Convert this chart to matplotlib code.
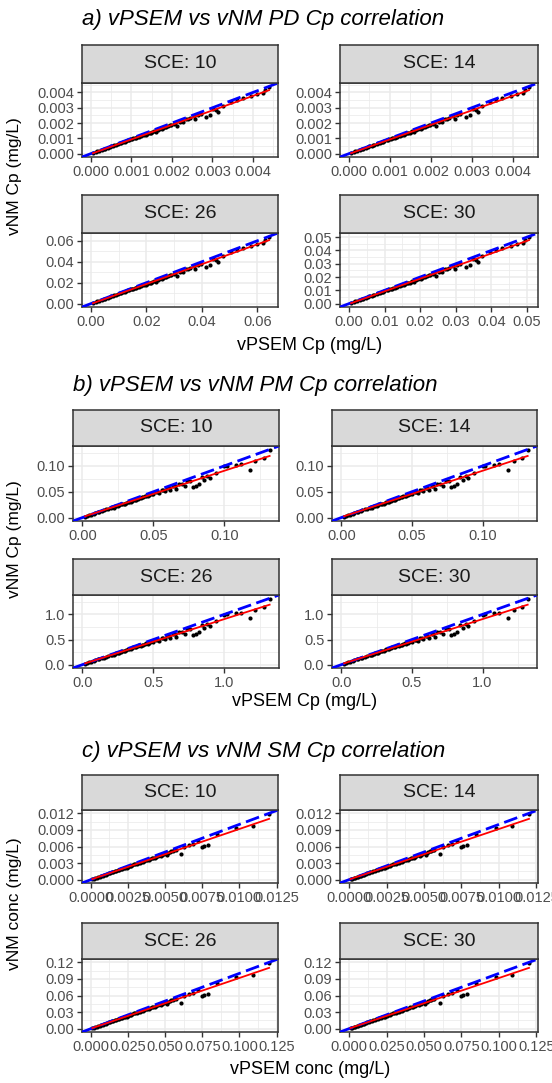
import numpy as np
import matplotlib
matplotlib.use("Agg")
import matplotlib.pyplot as plt
from matplotlib.ticker import FixedLocator, AutoMinorLocator, FormatStrFormatter

plt.rcParams['font.family'] = ['Liberation Sans', 'DejaVu Sans']

pd_x = [0.00005, 0.00012, 0.00020, 0.00028, 0.00035, 0.00042, 0.00050, 0.00055, 0.00062, 0.00068,
        0.00075, 0.00080, 0.00086, 0.00092, 0.00098, 0.00102, 0.00108, 0.00112, 0.00118, 0.00124,
        0.00130, 0.00135, 0.00142, 0.00148, 0.00155, 0.00160, 0.00168, 0.00175, 0.00182, 0.00190,
        0.00198, 0.00205, 0.00212, 0.00220, 0.00228, 0.00235, 0.00245, 0.00255, 0.00258, 0.00265,
        0.00272, 0.00285, 0.00295, 0.00302, 0.00310, 0.00315, 0.00325, 0.00345, 0.00360, 0.00375,
        0.00395, 0.00410, 0.00425, 0.00430, 0.00440,
        0.00015, 0.00032, 0.00046, 0.00058, 0.00072, 0.00083, 0.00095, 0.00105, 0.00115, 0.00127,
        0.00138, 0.00145, 0.00152, 0.00165, 0.00178, 0.00185, 0.00195, 0.00208, 0.00225, 0.00240]
pd_y = [0.00005, 0.00011, 0.00019, 0.00026, 0.00033, 0.00040, 0.00047, 0.00051, 0.00058, 0.00065,
        0.00070, 0.00074, 0.00082, 0.00086, 0.00093, 0.00094, 0.00103, 0.00102, 0.00112, 0.00114,
        0.00124, 0.00123, 0.00135, 0.00134, 0.00147, 0.00142, 0.00160, 0.00158, 0.00174, 0.00178,
        0.00190, 0.00192, 0.00180, 0.00210, 0.00205, 0.00225, 0.00230, 0.00245, 0.00228, 0.00255,
        0.00260, 0.00240, 0.00255, 0.00295, 0.00285, 0.00270, 0.00310, 0.00335, 0.00350, 0.00365,
        0.00375, 0.00390, 0.00395, 0.00415, 0.00435,
        0.00014, 0.00030, 0.00043, 0.00054, 0.00068, 0.00078, 0.00090, 0.00099, 0.00108, 0.00120,
        0.00130, 0.00137, 0.00140, 0.00155, 0.00165, 0.00172, 0.00185, 0.00198, 0.00212, 0.00228]

pm_x = [0.002, 0.005, 0.008, 0.011, 0.014, 0.017, 0.020, 0.022, 0.024, 0.026,
        0.028, 0.030, 0.032, 0.034, 0.036, 0.038, 0.040, 0.042, 0.044, 0.046,
        0.048, 0.050, 0.052, 0.054, 0.056, 0.058, 0.060, 0.062, 0.064, 0.066,
        0.068, 0.070, 0.072, 0.074, 0.076, 0.078, 0.080, 0.082, 0.084, 0.086,
        0.088, 0.090, 0.094, 0.100, 0.102, 0.108, 0.112, 0.118, 0.122, 0.128, 0.132,
        0.003, 0.006, 0.009, 0.012, 0.015, 0.018, 0.021, 0.023, 0.025, 0.027,
        0.029, 0.031, 0.033, 0.035, 0.037, 0.039, 0.041, 0.043, 0.045, 0.047,
        0.049, 0.053, 0.057, 0.061, 0.065]
pm_y = [0.002, 0.0048, 0.0077, 0.0105, 0.0132, 0.016, 0.019, 0.0195, 0.023, 0.024,
        0.0265, 0.027, 0.0305, 0.031, 0.0345, 0.035, 0.0385, 0.039, 0.042, 0.042,
        0.046, 0.0455, 0.0495, 0.048, 0.053, 0.052, 0.057, 0.053, 0.061, 0.055,
        0.065, 0.066, 0.062, 0.070, 0.071, 0.060, 0.062, 0.066, 0.078, 0.072,
        0.080, 0.076, 0.087, 0.099, 0.100, 0.102, 0.103, 0.093, 0.109, 0.115, 0.130,
        0.0029, 0.0057, 0.0086, 0.0113, 0.0142, 0.0168, 0.0198, 0.0215, 0.0232, 0.0255,
        0.027, 0.029, 0.0305, 0.033, 0.0345, 0.0365, 0.038, 0.040, 0.0425, 0.044,
        0.0465, 0.050, 0.054, 0.058, 0.062]

sm_x = [0.0001, 0.0003, 0.0005, 0.0007, 0.0009, 0.0011, 0.0013, 0.0015, 0.0017, 0.0019,
        0.0021, 0.0023, 0.0025, 0.0027, 0.0029, 0.0031, 0.0033, 0.0035, 0.0037, 0.0039,
        0.0041, 0.0043, 0.0045, 0.0047, 0.0049, 0.0051, 0.0053, 0.0055, 0.0057, 0.0061,
        0.0063, 0.0066, 0.0069, 0.0072, 0.0075, 0.0079, 0.0076, 0.0085, 0.0098, 0.0109, 0.0120,
        0.0002, 0.0004, 0.0006, 0.0008, 0.0010, 0.0012, 0.0014, 0.0016, 0.0018, 0.0020,
        0.0022, 0.0024, 0.0026, 0.0028, 0.0030, 0.0032, 0.0034, 0.0036, 0.0038, 0.0040,
        0.0042, 0.0044, 0.0046, 0.0048, 0.0050, 0.0052, 0.0054, 0.0056]
sm_y = [0.0001, 0.00028, 0.00047, 0.00065, 0.00085, 0.0010, 0.00122, 0.00138, 0.0016, 0.00175,
        0.00198, 0.00205, 0.00235, 0.0025, 0.00275, 0.0028, 0.0031, 0.00315, 0.0035, 0.0035,
        0.0039, 0.00395, 0.00425, 0.0043, 0.0047, 0.0045, 0.0050, 0.0052, 0.0053, 0.0046,
        0.0059, 0.0063, 0.0065, 0.0070, 0.0059, 0.0062, 0.0061, 0.0082, 0.0093, 0.0097, 0.0118,
        0.00019, 0.00038, 0.00056, 0.00075, 0.00093, 0.00112, 0.0013, 0.0015, 0.00168, 0.00186,
        0.00205, 0.0022, 0.0024, 0.0026, 0.0028, 0.00295, 0.0032, 0.0033, 0.0036, 0.0037,
        0.0040, 0.0041, 0.0044, 0.0045, 0.0048, 0.0049, 0.0051, 0.0054]

# The 14 / 26 / 30 panels show the same cloud at their own scale
pd_scale = [1.0, 1.0, 14.6, 11.5]
pm_scale = [1.0, 1.0, 10.0, 10.0]
sm_scale = [1.0, 1.0, 10.0, 10.0]
sce_labels = ["SCE: 10", "SCE: 14", "SCE: 26", "SCE: 30"]

pd_ticks = [[0, 0.001, 0.002, 0.003, 0.004], [0, 0.001, 0.002, 0.003, 0.004],
            [0, 0.02, 0.04, 0.06], [0, 0.01, 0.02, 0.03, 0.04, 0.05]]
pd_fmt = ['%.3f', '%.3f', '%.2f', '%.2f']
pm_ticks = [[0, 0.05, 0.10], [0, 0.05, 0.10], [0, 0.5, 1.0], [0, 0.5, 1.0]]
pm_fmt = ['%.2f', '%.2f', '%.1f', '%.1f']
sm_xticks = [[0, 0.0025, 0.005, 0.0075, 0.01, 0.0125]] * 2 + [[0, 0.025, 0.05, 0.075, 0.1, 0.125]] * 2
sm_xfmt = ['%.4f', '%.4f', '%.3f', '%.3f']
sm_yticks = [[0, 0.003, 0.006, 0.009, 0.012]] * 2 + [[0, 0.03, 0.06, 0.09, 0.12]] * 2
sm_yfmt = ['%.3f', '%.3f', '%.2f', '%.2f']

W, H = 552, 1083
fig = plt.figure(figsize=(W / 100, H / 100), dpi=100)


def box(l, t, r, b):
    return [l / W, 1 - b / H, (r - l) / W, (b - t) / H]


def panel(l, t_strip, t, r, b, x, y, label, xt, xf, yt, yf):
    m = max(max(x), max(y))
    ax = fig.add_axes(box(l, t, r, b))
    ax.set_xlim(-0.05 * m, 1.05 * m)
    ax.set_ylim(-0.05 * m, 1.05 * m)
    ax.xaxis.set_major_locator(FixedLocator(xt))
    ax.yaxis.set_major_locator(FixedLocator(yt))
    ax.xaxis.set_major_formatter(FormatStrFormatter(xf))
    ax.yaxis.set_major_formatter(FormatStrFormatter(yf))
    ax.xaxis.set_minor_locator(AutoMinorLocator(2))
    ax.yaxis.set_minor_locator(AutoMinorLocator(2))
    ax.grid(which='major', color='#EBEBEB', lw=1.1)
    ax.grid(which='minor', color='#EBEBEB', lw=0.55)
    ax.set_axisbelow(True)
    for s in ax.spines.values():
        s.set_color('#333333')
        s.set_linewidth(1.1)
    ax.tick_params(which='major', length=3.5, width=1.0, color='#333333',
                   labelcolor='#4D4D4D', labelsize=10.5, pad=2)
    ax.tick_params(which='minor', length=0)
    ax.scatter(x, y, s=9, color='black', lw=0, zorder=3)
    ax.axline((0, 0), slope=1, color='#0000FF', lw=2.0, ls=(0, (5, 2)), zorder=4)
    k, c = np.polyfit(x, y, 1)
    xs = np.array([min(x), max(x)])
    ax.plot(xs, k * xs + c, color='#FF0000', lw=1.3, zorder=5)

    st = fig.add_axes(box(l, t_strip, r, t))
    st.set_facecolor('#D9D9D9')
    st.set_xticks([])
    st.set_yticks([])
    for s in st.spines.values():
        s.set_color('#333333')
        s.set_linewidth(1.1)
    st.text(0.5, 0.5, label, ha='center', va='center', fontsize=14, color='#1A1A1A',
            transform=st.transAxes)
    return ax


sections = [
    dict(title="a) vPSEM vs vNM PD Cp correlation", tx=82, ty=20,
         rows=[(45, 83, 157), (195, 233, 307)], cols=[(82, 278), (340, 538)],
         x=pd_x, y=pd_y, scale=pd_scale,
         xt=pd_ticks, xf=pd_fmt, yt=pd_ticks, yf=pd_fmt,
         xlab="vPSEM Cp (mg/L)", xly=345, ylab="vNM Cp (mg/L)"),
    dict(title="b) vPSEM vs vNM PM Cp correlation", tx=73, ty=386,
         rows=[(410, 446, 521), (559, 595, 668)], cols=[(73, 279), (332, 537)],
         x=pm_x, y=pm_y, scale=pm_scale,
         xt=pm_ticks, xf=pm_fmt, yt=pm_ticks, yf=pm_fmt,
         xlab="vPSEM Cp (mg/L)", xly=701, ylab="vNM Cp (mg/L)"),
    dict(title="c) vPSEM vs vNM SM Cp correlation", tx=82, ty=752,
         rows=[(775, 810, 883), (923, 959, 1032)], cols=[(82, 278), (340, 538)],
         x=sm_x, y=sm_y, scale=sm_scale,
         xt=sm_xticks, xf=sm_xfmt, yt=sm_yticks, yf=sm_yfmt,
         xlab="vPSEM conc (mg/L)", xly=1070, ylab="vNM conc (mg/L)"),
]

for sec in sections:
    fig.text(sec['tx'] / W, 1 - sec['ty'] / H, sec['title'], fontsize=16, style='italic',
             ha='left', va='center')
    for i in range(4):
        t_strip, t, b = sec['rows'][i // 2]
        l, r = sec['cols'][i % 2]
        f = sec['scale'][i]
        x = [v * f for v in sec['x']]
        y = [v * f for v in sec['y']]
        panel(l, t_strip, t, r, b, x, y, sce_labels[i],
              sec['xt'][i], sec['xf'][i], sec['yt'][i], sec['yf'][i])
    mid_x = (sec['cols'][0][0] + sec['cols'][1][1]) / 2
    fig.text(mid_x / W, 1 - sec['xly'] / H, sec['xlab'], fontsize=13, ha='center', va='center')
    mid_y = (sec['rows'][0][0] + sec['rows'][1][2]) / 2
    fig.text(15 / W, 1 - mid_y / H, sec['ylab'], fontsize=12.5, rotation=90,
             ha='center', va='center')

fig.savefig("out.png", dpi=100, facecolor='white')
